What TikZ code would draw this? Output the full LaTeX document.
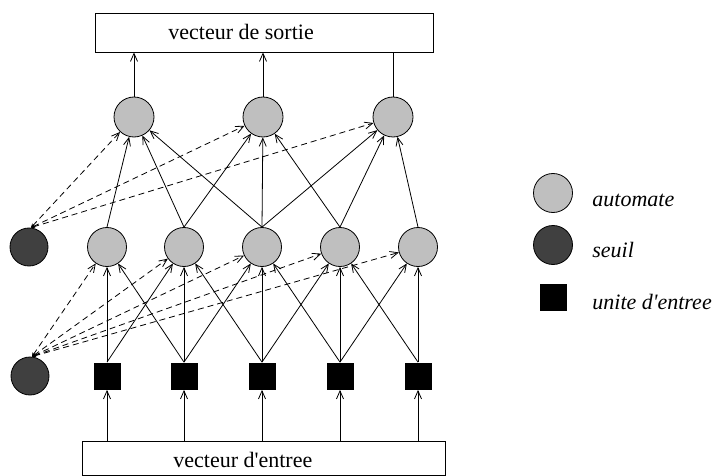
\documentclass[tikz,border=0pt]{standalone}
\usepackage{fontspec}
\setmainfont{Liberation Serif}[Ligatures=TeXOff]
\usetikzlibrary{arrows.meta}
\definecolor{lgray}{gray}{0.75}
\definecolor{dgray}{gray}{0.25}
\begin{document}
\begin{tikzpicture}[x=1pt,y=-1pt, line width=0.8pt,
 autonode/.style={circle,draw,fill=lgray,minimum size=39pt,inner sep=0pt},
 seuilnode/.style={circle,draw,fill=dgray,minimum size=38pt,inner sep=0pt},
 inunit/.style={rectangle,fill=black,minimum size=27pt,inner sep=0pt},
 arr/.style={-{Straight Barb[length=8pt,width=7pt]}},
 darr/.style={dash pattern=on 6pt off 4pt, {Stealth[length=4pt,width=4pt]}-{Straight Barb[length=8pt,width=7pt]}},
 lbl/.style={font=\fontsize{22}{26}\selectfont, inner sep=0pt, anchor=base west},
 lbli/.style={font=\fontsize{22}{26}\selectfont\itshape, inner sep=0pt, anchor=base west}]
\useasboundingbox (0,0) rectangle (715,476);
% boxes
\node[draw, minimum width=338pt, minimum height=39pt, inner sep=0pt] (out) at (264,32.5) {};
\node[lbl] (outtxt) at (168,40) {vecteur de sortie};
\node[draw, minimum width=363pt, minimum height=34.5pt, inner sep=0pt] (in) at (263.5,458.25) {};
\node[lbl] (intxt) at (173,467) {vecteur d'entree};
% output layer
\node[autonode, minimum size=40pt] (o1) at (134,117) {};
\node[autonode, minimum size=40pt] (o2) at (263,117) {};
\node[autonode, minimum size=40pt] (o3) at (393,117) {};
% hidden layer
\node[autonode] (h1) at (107,247) {};
\node[autonode] (h2) at (184,247) {};
\node[autonode] (h3) at (262,247) {};
\node[autonode] (h4) at (340,247) {};
\node[autonode] (h5) at (418,247) {};
% thresholds
\node[seuilnode] (s1) at (29,247) {};
\node[seuilnode] (s2) at (30,376) {};
% input units
\node[inunit] (q1) at (107,376) {};
\node[inunit] (q2) at (184,376) {};
\node[inunit] (q3) at (262,376) {};
\node[inunit] (q4) at (340,376) {};
\node[inunit] (q5) at (418,376) {};
% input vector -> units
\foreach \q in {q1,q2,q3,q4,q5} \draw[arr] (in.north -| \q) -- (\q.south);
% units -> hidden
\draw[arr] (q1.north) -- (h1); \draw[arr] (q1.north) -- (h2);
\draw[arr] (q2.north) -- (h1); \draw[arr] (q2.north) -- (h2); \draw[arr] (q2.north) -- (h3);
\draw[arr] (q3.north) -- (h2); \draw[arr] (q3.north) -- (h3); \draw[arr] (q3.north) -- (h4);
\draw[arr] (q4.north) -- (h3); \draw[arr] (q4.north) -- (h4); \draw[arr] (q4.north) -- (h5);
\draw[arr] (q5.north) -- (h4); \draw[arr] (q5.north) -- (h5);
% hidden -> output
\draw[arr] (h1.north) -- (o1);
\draw[arr] (h2.north) -- (o1); \draw[arr] (h2.north) -- (o2);
\draw[arr] (h3.north) -- (o1); \draw[arr] (h3.north) -- (o2); \draw[arr] (h3.north) -- (o3);
\draw[arr] (h4.north) -- (o2); \draw[arr] (h4.north) -- (o3);
\draw[arr] (h5.north) -- (o3);
% output -> output vector
\draw[arr] (o1.north) -- (o1.north |- out.south);
\draw[arr] (o2.north) -- (o2.north |- out.south);
\draw (o3.north) -- (o3.north |- out.south);
% thresholds (dashed)
\foreach \h in {h1,h2,h3,h4,h5} \draw[darr] ([xshift=2pt]s2.north) -- (\h);
\foreach \o in {o1,o2,o3} \draw[darr] ([xshift=2pt]s1.north) -- (\o);
% legend
\node[autonode] (la) at (553,193) {};
\node[lbli] (lat) at (592,206) {automate};
\node[seuilnode, minimum size=39pt] (ls) at (553,245) {};
\node[lbli] (lst) at (592,257) {seuil};
\node[inunit] (lq) at (553,297) {};
\node[lbli] (lqt) at (592,309) {unite d'entree};
\end{tikzpicture}
\end{document}
